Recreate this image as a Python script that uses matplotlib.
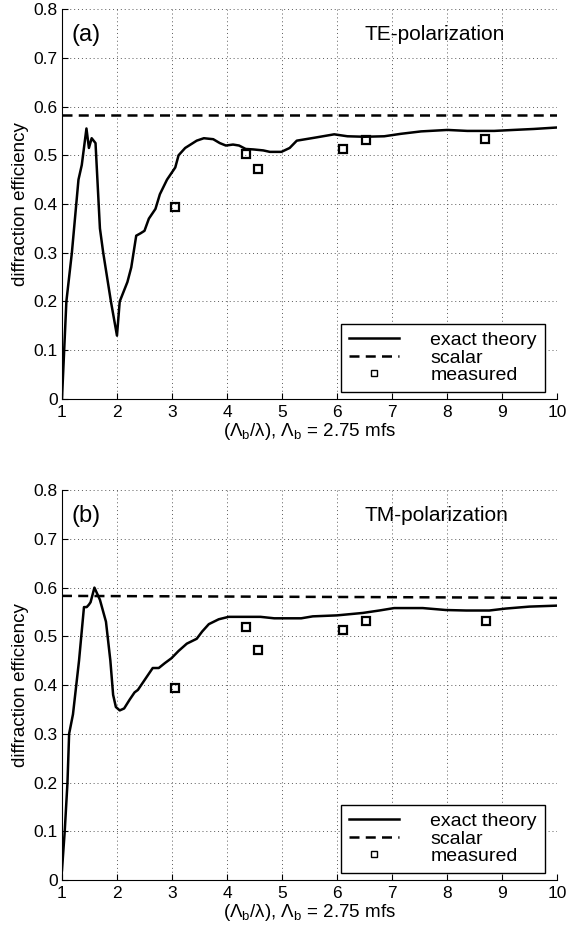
import matplotlib
matplotlib.use('Agg')
import matplotlib.pyplot as plt

plt.rcParams['font.family'] = ['Liberation Sans', 'DejaVu Sans']
plt.rcParams['mathtext.fontset'] = 'custom'
plt.rcParams['mathtext.rm'] = 'Liberation Sans'
plt.rcParams['mathtext.it'] = 'Liberation Sans:italic'
plt.rcParams['mathtext.default'] = 'regular'

# (a) TE-polarization
x_te = [1.00, 1.08, 1.18, 1.30, 1.36, 1.445, 1.49, 1.54, 1.61, 1.69, 1.75, 1.89, 2.00,
        2.05, 2.19, 2.26, 2.35, 2.43, 2.50, 2.58, 2.70, 2.78, 2.91, 3.00, 3.06, 3.12,
        3.24, 3.45, 3.58, 3.75, 3.87, 3.98, 4.11, 4.22, 4.34, 4.48, 4.66, 4.78, 4.99,
        5.14, 5.27, 5.59, 5.95, 6.19, 6.50, 6.86, 7.16, 7.53, 8.01, 8.37, 8.86, 9.21,
        9.58, 10.0]
y_te = [0.0, 0.2, 0.3, 0.45, 0.48, 0.555, 0.515, 0.535, 0.525, 0.35, 0.3, 0.2, 0.13,
        0.2, 0.24, 0.27, 0.335, 0.34, 0.345, 0.37, 0.39, 0.42, 0.45, 0.465, 0.475, 0.5,
        0.515, 0.53, 0.535, 0.533, 0.525, 0.52, 0.522, 0.52, 0.513, 0.512, 0.51, 0.507,
        0.507, 0.515, 0.53, 0.536, 0.543, 0.539, 0.538, 0.539, 0.544, 0.549, 0.552,
        0.550, 0.550, 0.552, 0.554, 0.557]
x_scal_te = [1, 10]
y_scal_te = [0.582, 0.582]
xm_te = [3.06, 4.34, 4.57, 6.11, 6.52, 8.69]
ym_te = [0.393, 0.503, 0.471, 0.513, 0.531, 0.534]

# (b) TM-polarization
x_tm = [1.00, 1.05, 1.10, 1.13, 1.20, 1.31, 1.40, 1.45, 1.49, 1.52, 1.59, 1.69, 1.80,
        1.88, 1.93, 1.98, 2.05, 2.13, 2.23, 2.32, 2.38, 2.50, 2.65, 2.76, 2.87, 2.99,
        3.12, 3.27, 3.45, 3.55, 3.67, 3.85, 4.03, 4.25, 4.61, 4.86, 5.35, 5.56, 6.00,
        6.47, 6.77, 7.04, 7.56, 7.98, 8.35, 8.77, 9.07, 9.50, 10.0]
y_tm = [0.02, 0.1, 0.2, 0.3, 0.34, 0.45, 0.56, 0.56, 0.565, 0.57, 0.6, 0.575, 0.53,
        0.45, 0.38, 0.355, 0.348, 0.352, 0.37, 0.385, 0.39, 0.41, 0.435, 0.435, 0.445,
        0.455, 0.47, 0.485, 0.495, 0.51, 0.525, 0.535, 0.54, 0.54, 0.54, 0.537, 0.537,
        0.541, 0.543, 0.548, 0.553, 0.558, 0.558, 0.554, 0.553, 0.553, 0.557, 0.561,
        0.563]
x_scal_tm = [1, 10]
y_scal_tm = [0.583, 0.579]
xm_tm = [3.05, 4.35, 4.57, 6.11, 6.52, 8.71]
ym_tm = [0.393, 0.52, 0.472, 0.512, 0.532, 0.532]

xticks = [1, 2, 3, 4, 5, 6, 7, 8, 9, 10]
yticks = [0, 0.1, 0.2, 0.3, 0.4, 0.5, 0.6, 0.7, 0.8]
ytick_labels = ['0', '0.1', '0.2', '0.3', '0.4', '0.5', '0.6', '0.7', '0.8']
labels = ['exact theory', 'scalar', 'measured']


def panel(ax, x, y, xs, ys, xm, ym, tag, pol):
    ax.plot(x, y, color='k', linewidth=1.8, label=labels[0])
    ax.plot(xs, ys, color='k', linewidth=1.8, linestyle=(0, (4, 2.5)), label=labels[1])
    ax.plot(xm, ym, linestyle='none', marker='s', markersize=5.5, markerfacecolor='none',
            markeredgecolor='k', markeredgewidth=1.6, label=labels[2])
    ax.set_xlim(1, 10)
    ax.set_ylim(0, 0.8)
    ax.set_xticks(xticks)
    ax.set_yticks(yticks)
    ax.set_yticklabels(ytick_labels)
    ax.grid(True, linestyle=(0, (1, 3)), color='0.35', linewidth=0.7)
    ax.spines['top'].set_visible(False)
    ax.spines['right'].set_visible(False)
    ax.tick_params(direction='in', length=4, labelsize=12.5)
    ax.tick_params(axis='x', pad=4)
    ax.tick_params(axis='y', pad=3)
    ax.set_ylabel('diffraction efficiency', fontsize=13.5, labelpad=3)
    ax.set_xlabel(r'$(\Lambda_b/\lambda)$, $\Lambda_b$ = 2.75 mfs', fontsize=13.5, labelpad=1)
    ax.text(1.18, 0.747, tag, fontsize=17, va='center', ha='left')
    ax.text(6.5, 0.747, pol, fontsize=15, va='center', ha='left')
    leg = ax.legend(loc='lower right', bbox_to_anchor=(0.975, 0.018), borderaxespad=0,
                    fontsize=14, fancybox=False, edgecolor='k', framealpha=1,
                    labelspacing=0.0, handlelength=2.6, handletextpad=1.6, borderpad=0.4)
    leg.get_frame().set_linewidth(1.0)
    leg.legend_handles[2].set_markersize(4)
    leg.legend_handles[2].set_markeredgewidth(1.0)


fig = plt.figure(figsize=(5.83, 9.35), dpi=100)
ax1 = fig.add_axes([0.1063, 0.5733, 0.849, 0.417])
ax2 = fig.add_axes([0.1063, 0.0588, 0.849, 0.417])
panel(ax1, x_te, y_te, x_scal_te, y_scal_te, xm_te, ym_te, '(a)', 'TE-polarization')
panel(ax2, x_tm, y_tm, x_scal_tm, y_scal_tm, xm_tm, ym_tm, '(b)', 'TM-polarization')

fig.savefig('out.png', dpi=100)
